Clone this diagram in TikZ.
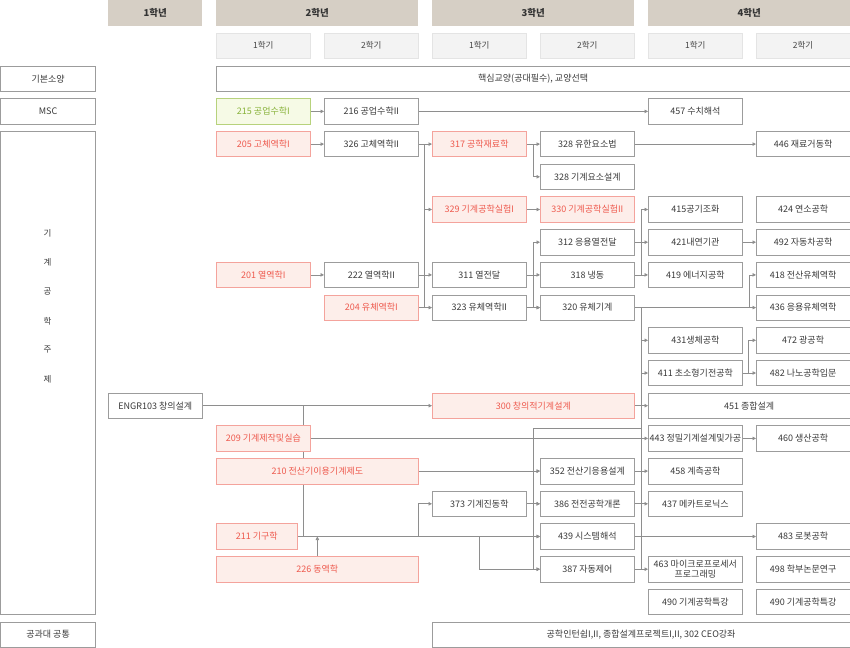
\documentclass[tikz,border=0pt]{standalone}
\usepackage{fontspec}
\setmainfont{Noto Sans CJK KR}
\usetikzlibrary{arrows.meta,calc}
\definecolor{gborder}{HTML}{9C9C9C}
\definecolor{gtext}{HTML}{3A3A3A}
\definecolor{rborder}{HTML}{F4A39C}
\definecolor{rfill}{HTML}{FDEEEA}
\definecolor{rtext}{HTML}{EE5A4E}
\definecolor{grborder}{HTML}{B7D27C}
\definecolor{grfill}{HTML}{F6FAE6}
\definecolor{grtext}{HTML}{88B23A}
\definecolor{hdrfill}{HTML}{D6CFC5}
\definecolor{hdrtext}{HTML}{333333}
\definecolor{semfill}{HTML}{F3F3F3}
\definecolor{semborder}{HTML}{E4E4E4}
\definecolor{semtext}{HTML}{444444}
\definecolor{lncol}{HTML}{8E8E8E}
\pgfdeclarelayer{bg}
\pgfsetlayers{bg,main}
\tikzset{
  base/.style={draw, line width=0.7pt, anchor=north west, minimum height=25.5pt, inner sep=1pt, font=\fontsize{9}{11}\selectfont, align=center},
  gbox/.style={base, draw=gborder, fill=white, text=gtext},
  rbox/.style={base, draw=rborder, fill=rfill, text=rtext},
  grbox/.style={base, draw=grborder, fill=grfill, text=grtext},
  hdr/.style={anchor=north west, fill=hdrfill, minimum height=25.5pt, inner sep=1pt, font=\fontsize{9.5}{11}\selectfont\bfseries, text=hdrtext},
  sem/.style={anchor=north west, draw=semborder, fill=semfill, line width=0.5pt, minimum height=25.5pt, inner sep=1pt, font=\fontsize{8.5}{10}\selectfont, text=semtext},
  letter/.style={font=\fontsize{8.5}{10}\selectfont, text=gtext},
  ln/.style={draw=lncol, line width=0.7pt},
  arr/.style={ln, -{Triangle[length=3.5pt,width=3.5pt]}},
}
\newcommand\bx[6]{\node[#1,minimum width=#5pt] (#2) at (#3,#4) {#6};}
\begin{document}
\begin{tikzpicture}[x=1pt,y=-1pt]
\useasboundingbox (0,0) rectangle (850,647);
% headers
\bx{hdr}{h1}{108}{0}{94}{1학년}
\bx{hdr}{h2}{216}{0}{202}{2학년}
\bx{hdr}{h3}{432}{0}{202}{3학년}
\bx{hdr}{h4}{648}{0}{202}{4학년}
\bx{sem}{s21}{216}{32.7}{94}{1학기}
\bx{sem}{s22}{324}{32.7}{94}{2학기}
\bx{sem}{s31}{432}{32.7}{94}{1학기}
\bx{sem}{s32}{540}{32.7}{94}{2학기}
\bx{sem}{s41}{648}{32.7}{94}{1학기}
\bx{sem}{s42}{756}{32.7}{93.5}{2학기}
% left labels
\bx{gbox}{lb1}{0.5}{65.6}{94.5}{기본소양}
\bx{gbox}{lb2}{0.5}{98.3}{94.5}{MSC}
\node[gbox, minimum width=94.5pt, minimum height=483.3pt] (lb3) at (0.5,131) {};
\node[letter] (l1) at (47.5,233) {기};
\node[letter] (l2) at (47.5,262.5) {계};
\node[letter] (l3) at (47.5,292) {공};
\node[letter] (l4) at (47.5,321) {학};
\node[letter] (l5) at (47.5,350) {주};
\node[letter] (l6) at (47.5,379) {제};
\node[gbox, minimum width=94.5pt, minimum height=25pt] (lb4) at (0.5,621.5) {공과대 공통};
% top rows
\bx{gbox}{core}{216}{65.6}{633.5}{핵심교양(공대필수), 교양선택}
\bx{grbox}{m215}{216}{98.3}{94}{215 공업수학I}
\bx{gbox}{m216}{324}{98.3}{94}{216 공업수학II}
\bx{gbox}{m457}{648}{98.3}{94}{457 수치해석}
% row 1
\bx{rbox}{c205}{216}{131}{94}{205 고체역학I}
\bx{gbox}{c326}{324}{131}{94}{326 고체역학II}
\bx{rbox}{c317}{432}{131}{94}{317 공학재료학}
\bx{gbox}{c328a}{540}{131}{94}{328 유한요소법}
\bx{gbox}{c446}{756}{131}{93.5}{446 재료거동학}
% row 2
\bx{gbox}{c328b}{540}{163.7}{94}{328 기계요소설계}
% row 3
\bx{rbox}{c329}{432}{196.4}{94}{329 기계공학실험I}
\bx{rbox}{c330}{540}{196.4}{94}{330 기계공학실험II}
\bx{gbox}{c415}{648}{196.4}{94}{415공기조화}
\bx{gbox}{c424}{756}{196.4}{93.5}{424 연소공학}
% row 4
\bx{gbox}{c312}{540}{229.1}{94}{312 응용열전달}
\bx{gbox}{c421}{648}{229.1}{94}{421내연기관}
\bx{gbox}{c492}{756}{229.1}{93.5}{492 자동차공학}
% row 5
\bx{rbox}{c201}{216}{261.8}{94}{201 열역학I}
\bx{gbox}{c222}{324}{261.8}{94}{222 열역학II}
\bx{gbox}{c311}{432}{261.8}{94}{311 열전달}
\bx{gbox}{c318}{540}{261.8}{94}{318 냉동}
\bx{gbox}{c419}{648}{261.8}{94}{419 에너지공학}
\bx{gbox}{c418}{756}{261.8}{93.5}{418 전산유체역학}
% row 6
\bx{rbox}{c204}{324}{294.5}{94}{204 유체역학I}
\bx{gbox}{c323}{432}{294.5}{94}{323 유체역학II}
\bx{gbox}{c320}{540}{294.5}{94}{320 유체기계}
\bx{gbox}{c436}{756}{294.5}{93.5}{436 응용유체역학}
% row 7
\bx{gbox}{c431}{648}{327.2}{94}{431생체공학}
\bx{gbox}{c472}{756}{327.2}{93.5}{472 광공학}
% row 8
\bx{gbox}{c411}{648}{359.9}{94}{411 초소형기전공학}
\bx{gbox}{c482}{756}{359.9}{93.5}{482 나노공학입문}
% row 9
\bx{gbox}{e103}{108}{392.6}{94}{ENGR103 창의설계}
\bx{rbox}{c300}{432}{392.6}{202}{300 창의적기계설계}
\bx{gbox}{c451}{648}{392.6}{201.5}{451 종합설계}
% row 10
\bx{rbox}{c209}{216}{425.3}{94}{209 기계제작및실습}
\bx{gbox}{c443}{648}{425.3}{94}{443 정밀기계설계및가공}
\bx{gbox}{c460}{756}{425.3}{93.5}{460 생산공학}
% row 11
\bx{rbox}{c210}{216}{458}{202}{210 전산기이용기계제도}
\bx{gbox}{c352}{540}{458}{94}{352 전산기응용설계}
\bx{gbox}{c458}{648}{458}{94}{458 계측공학}
% row 12
\bx{gbox}{c373}{432}{490.7}{94}{373 기계진동학}
\bx{gbox}{c386}{540}{490.7}{94}{386 전전공학개론}
\bx{gbox}{c437}{648}{490.7}{94}{437 메카트로닉스}
% row 13
\bx{rbox}{c211}{216}{523.4}{81}{211 기구학}
\bx{gbox}{c439}{540}{523.4}{94}{439 시스템해석}
\bx{gbox}{c483}{756}{523.4}{93.5}{483 로봇공학}
% row 14
\bx{rbox}{c226}{216}{556.1}{202}{226 동역학}
\bx{gbox}{c387}{540}{556.1}{94}{387 자동제어}
\node[gbox, minimum width=94pt, font=\fontsize{9}{10}\selectfont] (c463) at (648,556.1) {463 마이크로프로세서\\프로그래밍};
\bx{gbox}{c498}{756}{556.1}{93.5}{498 학부논문연구}
% row 15
\bx{gbox}{c490a}{648}{588.8}{94}{490 기계공학특강}
\bx{gbox}{c490b}{756}{588.8}{93.5}{490 기계공학특강}
% row 16
\node[gbox, minimum width=417.5pt, minimum height=25pt] (common) at (432,621.5) {공학인턴쉽I,II, 종합설계프로젝트I,II, 302 CEO강좌};
% helper coordinates
\coordinate (xv) at (303,0);
\coordinate (k1) at (533,428.5);
% connectors
\begin{pgfonlayer}{bg}
\draw[arr] (m215.east) -- (m216.west);
\draw[arr] (m216.east) -- (m457.west);
\draw[arr] (c205.east) -- (c326.west);
\draw[arr] (c326.east) -- (c317.west);
\draw[ln] ([xshift=6pt]c326.east) -- ([xshift=6pt]c204.east);
\draw[arr] ([xshift=6pt]c326.east) |- (c329.west);
\draw[arr] (c201.east) -- (c222.west);
\draw[arr] (c222.east) -- (c311.west);
\draw[arr] (c204.east) -- (c323.west);
\draw[arr] (c317.east) -- (c328a.west);
\draw[arr] ([xshift=7pt]c317.east) |- (c328b.west);
\draw[arr] (c329.east) -- (c330.west);
\draw[arr] (c328a.east) -- (c446.west);
\draw[arr] (c311.east) -- (c318.west);
\draw[arr] ([xshift=7pt]c311.east) |- (c312.west);
\draw[arr] ([xshift=7pt]c311.east) |- (c320.west);
\draw[arr] (c323.east) -- (c320.west);
\draw[arr] (c312.east) -- (c421.west);
\draw[arr] (c318.east) -- (c419.west);
\draw[arr] ([xshift=7pt]c318.east) |- (c415.west);
\draw[arr] (c421.east) -- (c492.west);
\draw[arr] (c320.east) -- (c436.west);
\draw[arr] ([xshift=-7pt]c436.west) |- (c418.west);
\draw[ln] ([xshift=7pt]c320.east) -- ([xshift=7pt]c387.east);
\draw[arr] ([xshift=7pt]c320.east) |- (c431.west);
\draw[arr] ([xshift=7pt]c320.east) |- (c411.west);
\draw[arr] (c411.east) -- (c482.west);
\draw[arr] ([xshift=6pt]c411.east) |- (c472.west);
\draw[arr] (e103.east) -- (c300.west);
\draw[arr] (c300.east) -- (c451.west);
\draw[ln] (e103.east -| xv) -- (c211.east -| xv);
\draw[arr] (c209.east) -- (c443.west);
\draw[arr] (c443.east) -- (c460.west);
\draw[arr] (c210.east) -- (c352.west);
\draw[arr] (c352.east) -- (c458.west);
\draw[ln] (k1) -- (k1 -| c387.east) -- ++(7,0);
\draw[ln] (k1) -- (k1 |- c387.west);
\draw[arr] (k1) |- (c352.west);
\draw[arr] (k1) |- (c386.west);
\draw[arr] (k1) |- (c439.west);
\draw[arr] (k1) |- (c387.west);
\draw[arr] (c373.east) -- (c386.west);
\draw[arr] (c386.east) -- (c437.west);
\draw[arr] (c211.east) -- (c439.west);
\draw[arr] (c211.east -| c210.east) |- (c373.west);
\draw[arr] (c211.east -| c373.center) |- (c387.west);
\draw[arr] (c226.north) -- (c226.north |- c211.east);
\draw[arr] (c439.east) -- (c483.west);
\draw[arr] (c387.east) -- (c463.west);
\end{pgfonlayer}
\end{tikzpicture}
\end{document}
